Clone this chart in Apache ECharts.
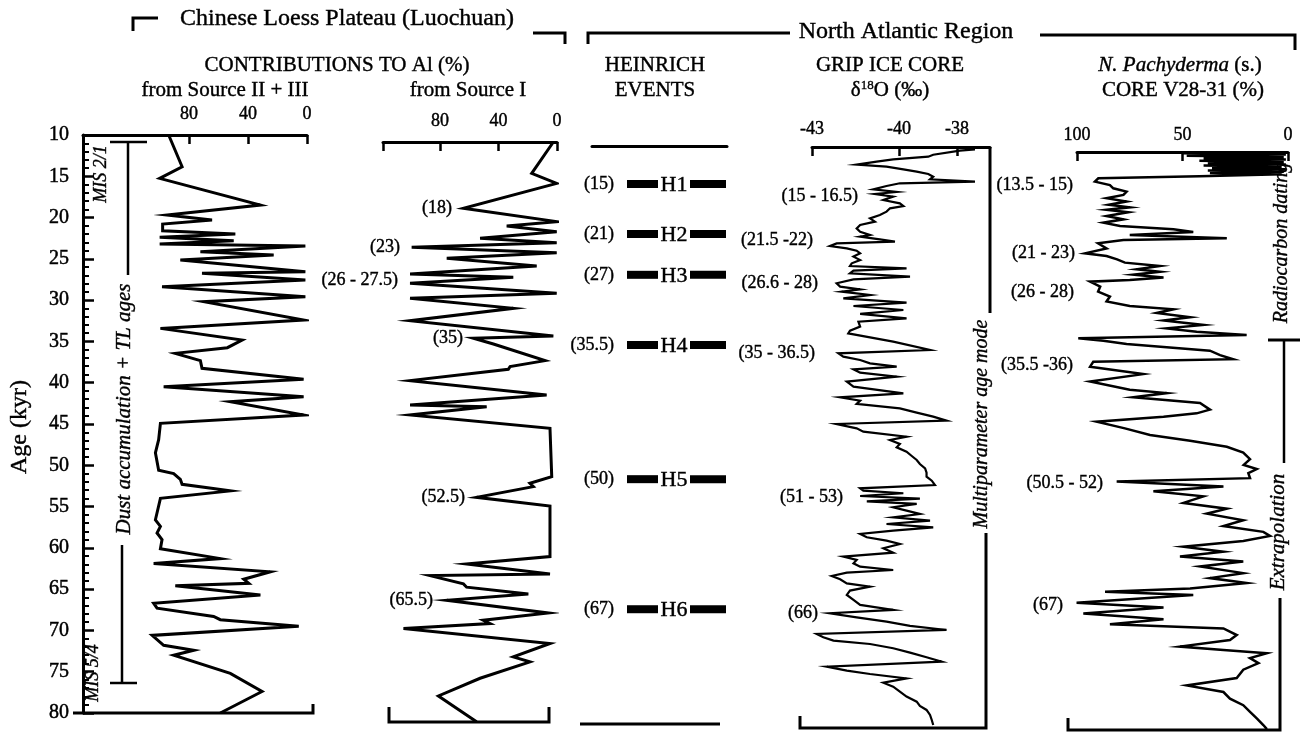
<!DOCTYPE html>
<html><head><meta charset="utf-8">
<script src="https://cdn.jsdelivr.net/npm/echarts@6/dist/echarts.min.js"></script>
<style>html,body{margin:0;padding:0;background:#fff}#c{width:1305px;height:734px}</style>
</head><body><div id="c"></div>
<script>
// ---------------- DATA ----------------
// Source II + III contribution (%) vs age (kyr)
const srcIIIAges = [10.0,13.84,15.25,18.48,19.69,20.29,20.78,21.59,21.99,22.39,22.8,23.2,23.44,24.13,24.53,25.14,26.55,26.75,27.56,28.37,29.58,30.19,32.41,33.42,34.83,35.76,36.44,37.33,38.26,39.59,40.48,41.69,42.3,43.91,44.92,46.9,48.5,50.6,51.0,51.7,52.3,53.1,54.0,56.6,57.4,58.2,59.0,60.1,61.3,61.9,62.9,63.8,64.3,64.6,65.7,66.7,67.3,68.3,68.7,69.5,70.6,71.8,72.4,73.0,75.2,77.4,80.0];
const srcIIIVals = [93.8,84.7,99.9,31.6,94.9,64.4,97.9,97.9,48.6,99.9,49.7,99.9,1.1,72.3,22.6,85.9,1.1,71.2,1.1,98.3,1.1,70,2.3,99.4,44,54,89.3,72.3,71.2,2.3,97.2,2.3,52,2.3,99.4,100.6,102.8,100.6,90.4,85.9,84.7,52,99.4,102.8,99.4,101.7,98.3,99.4,58.8,104,24.9,42.9,39.5,89.3,31.6,104,101.7,63.3,58.8,5.6,105,97.2,76.8,90.4,52,30.5,58.8];
// Source I contribution (%) vs age (kyr)
const srcIAges = [10.0,13.78,14.99,18.0,19.61,20.14,20.82,21.62,22.15,22.71,23.36,24.04,24.96,25.93,26.33,27.06,28.26,28.87,30.07,31.56,33.41,33.69,34.38,36.39,37.11,37.43,38.8,40.53,41.74,41.94,42.94,44.55,50.39,51.19,51.59,52.88,53.93,60.04,60.92,62.13,62.33,63.33,63.73,64.55,65.31,66.84,67.72,68.12,68.72,70.53,72.14,72.74,74.72,76.86,79.96];
const srcIVals = [2.5,17.3,0.2,64,0.2,34.4,0.2,52.6,0.2,99.4,0.2,75.4,13.9,100.5,29.9,100.5,0.2,100.5,29.9,100.5,2.5,57.2,43.5,8.2,32.1,33.3,100.5,7.1,100.5,48.1,100.5,4.8,3.6,18.5,16.2,55,4.8,4.8,61.8,4.8,86.8,64,61.8,19.6,75.4,5.9,50.4,45.8,105,4.8,29.9,18.5,52.6,81.1,55];
// Heinrich events
const heinrichAges = [14.6,20.66,25.6,34.1,50.35,66.1];
const heinrichNames = ['H1','H2','H3','H4','H5','H6'];
const heinrichLabels = ['(15)','(21)','(27)','(35.5)','(50)','(67)'];
// GRIP ice core d18O (permil) vs age
const gripAges = [10.28,10.44,10.68,10.93,11.17,11.49,11.77,11.97,12.13,12.37,12.7,12.98,13.26,13.58,13.9,14.18,14.38,14.71,15.11,15.43,15.67,15.99,16.4,16.8,17.12,17.4,17.8,18.21,18.61,19.01,19.41,19.82,20.22,20.62,20.82,21.14,21.42,21.63,21.95,22.23,22.51,22.83,23.23,23.64,24.04,24.36,24.64,24.92,25.25,25.65,25.97,26.45,26.85,27.18,27.46,27.86,28.26,28.79,29.19,29.67,30.15,30.68,31.08,31.68,32.16,32.49,33.49,34.5,34.9,35.3,35.7,36.11,36.51,36.83,37.23,37.72,38.32,38.92,39.73,40.21,40.61,41.01,41.54,42.06,42.54,43.03,43.43,43.95,44.35,44.96,45.36,45.84,46.24,46.77,47.29,47.77,48.26,48.78,49.3,49.78,50.27,50.79,51.19,51.47,51.79,52.12,52.44,52.76,53.08,53.48,53.89,54.29,54.69,55.09,55.5,55.9,56.3,56.7,57.1,57.51,57.91,58.43,58.96,59.44,59.84,60.25,60.65,61.05,61.37,61.77,62.17,62.66,63.06,63.54,64.06,64.67,65.27,65.87,66.27,66.76,67.28,67.8,68.29,68.77,69.17,69.57,69.98,70.5,71.02,71.59,72.11,72.72,73.2,73.6,74.13,74.65,75.13,75.73,76.33,76.94,77.46,77.94,78.54,79.15,79.76];
const gripVals = [-37.38,-37.9,-37.84,-38.82,-38.99,-40.2,-40.77,-40.83,-41.46,-40.43,-39.85,-39.39,-38.99,-38.82,-38.93,-37.38,-39.97,-40.43,-40.89,-40.08,-40.83,-40.2,-40.54,-39.97,-39.85,-40.31,-40.43,-40.66,-41.0,-40.83,-41.34,-41.46,-41.34,-41.0,-41.34,-40.66,-40.14,-42.15,-42.38,-41.8,-41.46,-41.34,-41.57,-41.34,-41.63,-41.69,-39.74,-41.57,-41.69,-39.62,-41.57,-42.15,-42.03,-41.34,-41.98,-41.0,-41.92,-39.74,-41.57,-39.85,-41.34,-39.74,-41.4,-41.34,-41.69,-41.75,-40.2,-38.93,-42.09,-41.92,-41.34,-41.0,-40.08,-41.57,-41.34,-40.08,-41.8,-41.57,-39.85,-42.03,-41.34,-41.46,-39.97,-39.39,-38.82,-38.36,-42.15,-41.46,-41.23,-39.74,-40.31,-39.97,-40.08,-39.74,-39.56,-39.39,-39.28,-39.1,-39.05,-39.05,-38.87,-38.76,-41.34,-41.23,-39.85,-41.34,-39.28,-41.11,-39.39,-40.2,-39.74,-39.28,-40.2,-38.93,-40.43,-38.82,-40.2,-41.34,-41.11,-40.43,-39.97,-40.54,-40.2,-41.92,-41.46,-41.57,-41.34,-40.2,-41.8,-42.32,-42.03,-41.8,-41.0,-41.69,-41.8,-41.57,-41.34,-40.2,-42.38,-41.46,-40.43,-39.62,-38.36,-42.84,-42.61,-42.26,-41.0,-40.2,-39.62,-39.05,-38.53,-42.49,-41.8,-41.0,-39.74,-40.54,-40.2,-39.97,-39.74,-39.39,-39.28,-39.05,-38.93,-38.87,-38.82];
// N. pachyderma (s.) core V28-31 (%) vs age
const pachyAges = [10.16,10.16,10.3,10.3,10.45,10.45,10.6,10.6,10.75,10.75,10.9,10.9,11.05,11.05,11.2,11.2,11.35,11.35,11.5,11.5,11.65,11.65,11.8,11.8,11.95,11.95,12.1,12.1,12.25,12.25,12.4,12.4,12.55,12.55,12.7,12.7,12.95,13.19,13.59,14.0,14.4,14.8,15.2,15.6,16.0,16.4,16.7,17.0,17.3,17.75,18.15,18.56,18.96,19.37,19.69,20.05,20.46,20.66,21.06,21.67,22.27,22.6,23.0,23.4,23.8,24.2,24.5,24.86,25.2,25.5,25.7,26.3,26.9,27.5,28.1,28.65,29.05,29.5,30.0,30.4,30.95,31.36,31.76,32.16,32.57,32.85,33.25,33.66,34.06,34.6,35.1,35.4,36.0,36.9,37.8,38.8,39.2,39.7,40.4,41.2,41.65,42.05,42.66,43.47,44.28,44.96,45.7,46.4,47.2,47.9,48.4,48.9,49.5,49.9,50.5,51.1,51.7,52.5,53.2,53.8,54.6,55.3,56.0,56.5,57.1,57.8,58.4,59.0,59.6,60.2,61.0,61.6,62.2,62.85,63.25,63.65,64.6,65.15,65.9,66.6,67.2,67.7,68.5,69.1,69.9,70.3,70.7,71.3,71.9,72.7,73.7,74.6,75.4,76.2,77.0,77.8,78.6,79.4,79.9];
const pachyVals = [1,50,50,1,1,48,48,2,2,40,40,1,1,42,42,2,2,38,38,1,1,40,40,3,3,36,36,1,1,38,38,2,2,37,37,3,42,89.9,91.5,84.4,82.8,76.5,78,86,76.5,85,75,86,75.7,86,78,87.5,79.6,54.3,44.9,75,29,78,90,86,96.2,86,81,77.3,60.7,71.7,60.7,73.3,59,75,93.8,89,90,84.4,86,75,54.3,62.2,46.4,59,40,57.5,43.3,19.6,99.4,87.5,76.5,57.5,37,32.2,26,92.3,93.8,68.6,93.8,75,57.5,73.3,41.7,37,43.3,59,90.7,77.3,65.4,46.4,29,21.2,18,21,14.8,18.8,18,81.2,30.6,63.8,40.1,49.6,29,38.5,21.2,30.6,11.7,8.5,21.2,49.6,30.6,51.2,21.2,41.7,21.2,37,19.6,46.4,86.7,44.9,100.2,59,97,59,84.4,30.6,24.3,27.5,51.2,30.6,10,18,14,21.2,24.3,48,30.6,27.5,21.2,18,14.8,11.7,10];
// tick labels
const loessTicks = [0,40,80];
const gripTicks = [-43,-40,-38];
const pachyTicks = [0,50,100];

// ---------------- CHART ----------------
const FONT = '"Liberation Serif", "Times New Roman", serif';
const K = '#000';
const chart = echarts.init(document.getElementById('c'), null, {renderer:'canvas'});

const grids = [
  {left:83, top:135, width:224, height:578},   // Source II+III
  {left:383, top:142, width:174, height:580},  // Source I
  {left:592, top:146, width:135, height:578},  // Heinrich
  {left:812, top:147, width:178, height:580},  // GRIP
  {left:1077, top:152, width:211, height:578}  // N. pachyderma
];

function topAxis(gi, min, max, inverse, ticks, labels, margin, showTicks) {
  return {
    type:'value', gridIndex:gi, position:'top', min:min, max:max, inverse:inverse,
    axisLine:{show:true, onZero:false, lineStyle:{color:K, width:3}},
    axisTick:{show:showTicks, inside:true, length:9, lineStyle:{color:K, width:2.5}, customValues:ticks},
    axisLabel:{show:!!labels, customValues:labels||[], color:K, fontFamily:FONT, fontSize:18, margin:margin,
      textBorderColor:K, textBorderWidth:0.4},
    splitLine:{show:false}
  };
}
const xAxes = [
  topAxis(0, 0, 151.9, true, loessTicks, loessTicks, 12, true),
  topAxis(1, 0, 119, true, loessTicks.concat([119]), loessTicks, 12, true),
  topAxis(2, 0, 1, false, [], null, 8, false),
  topAxis(3, -43, -36.862, false, gripTicks, gripTicks, 9, true),
  topAxis(4, 0, 100, true, pachyTicks, pachyTicks, 8, true)
];
const yAxes = grids.map((g,i)=>({
  type:'value', gridIndex:i, min:10, max:80, interval:5, inverse:true, show:i===0, position:'left',
  axisLine:{show:true, onZero:false, lineStyle:{color:K, width:3}},
  axisTick:{show:true, inside:true, length:11, lineStyle:{color:K, width:2.5}},
  minorTick:{show:true, splitNumber:5, length:6, lineStyle:{color:K, width:2}},
  axisLabel:{color:K, fontFamily:FONT, fontSize:20, margin:14, textBorderColor:K, textBorderWidth:0.5},
  splitLine:{show:false}, minorSplitLine:{show:false}
}));

function lineSeries(i, ages, vals, w) {
  return {type:'line', xAxisIndex:i, yAxisIndex:i, symbol:'none', animation:false,
    data: ages.map((a,k)=>[vals[k], a]), lineStyle:{color:K, width:w, join:'miter'}, z:3};
}

const heinrichSeries = {
  type:'custom', xAxisIndex:2, yAxisIndex:2, animation:false,
  data: heinrichAges.map((a,i)=>[0.5, a, i]),
  renderItem: function(params, api) {
    const i = api.value(2);
    const y = api.coord([0.5, api.value(1)])[1];
    const x0 = params.coordSys.x;
    return {type:'group', children:[
      {type:'rect', shape:{x:x0+35, y:y-4, width:31, height:8}, style:{fill:K}},
      {type:'text', style:{text:heinrichNames[i], x:x0+82, y:y+1, align:'center', verticalAlign:'middle', fontFamily:FONT, fontSize:22, fill:K, stroke:K, lineWidth:0.4}},
      {type:'rect', shape:{x:x0+98, y:y-4, width:36, height:8}, style:{fill:K}},
      {type:'text', style:{text:heinrichLabels[i], x:x0+22, y:y, align:'right', verticalAlign:'middle', fontFamily:FONT, fontSize:18, fill:K, stroke:K, lineWidth:0.4}}
    ]};
  }
};

// ------------- decorations / texts -------------
function T(text, x, y, o) {
  o = o || {};
  return {type:'text', x:x, y:y, rotation:o.rot||0, silent:true,
    style:{text:text, fill:K, stroke:K, lineWidth:0.4, fontFamily:FONT, fontSize:o.size||18, fontStyle:o.italic?'italic':'normal',
      align:o.align||'center', verticalAlign:'middle'}};
}
function L(pts, w) {
  return {type:'polyline', silent:true, shape:{points:pts}, style:{stroke:K, lineWidth:w||3, fill:null}};
}
const R = Math.PI/2;
const graphics = [
  // top headers
  T('Chinese Loess Plateau (Luochuan)', 347, 19, {size:24}),
  L([[133,31],[133,18],[158,18]]),
  L([[533,33],[565,33],[565,44]]),
  L([[588,44],[588,33],[790,33]]),
  T('North Atlantic Region', 906, 32, {size:24}),
  L([[1040,35],[1295,35],[1295,50]]),
  T('CONTRIBUTIONS TO Al (%)', 337, 65, {size:21}),
  T('from Source II + III', 225, 90, {size:21}),
  T('from Source I', 468, 90, {size:21}),
  T('HEINRICH', 655, 65, {size:21}),
  T('EVENTS', 655, 90, {size:21}),
  T('GRIP ICE CORE', 890, 65, {size:21}),
  {type:'text', x:890, y:90, silent:true, style:{text:'δ{s|18}O (‰)', fill:K, stroke:K, lineWidth:0.4, fontFamily:FONT, fontSize:21, align:'center', verticalAlign:'middle',
    rich:{s:{fontFamily:FONT, fontSize:13, verticalAlign:'top', fill:K, stroke:K, lineWidth:0.3}}}},
  {type:'text', x:1180, y:65, silent:true, style:{text:'{i|N. Pachyderma} (s.)', fill:K, stroke:K, lineWidth:0.4, fontFamily:FONT, fontSize:21, align:'center', verticalAlign:'middle',
    rich:{i:{fontFamily:FONT, fontSize:21, fontStyle:'italic', fill:K, stroke:K, lineWidth:0.4}}}},
  T('CORE V28-31 (%)', 1183, 90, {size:21}),
  // y axis title
  T('Age (kyr)', 20, 427, {size:24, rot:R}),
  // panel 1 decorations
  L([[73,713],[313,713],[313,704]]),
  T('MIS 2/1', 101, 174, {size:18, italic:true, rot:R}),
  T('MIS 5/4', 93, 673, {size:18, italic:true, rot:R}),
  L([[110,142],[147,142]], 2.5), L([[128,142],[128,275]], 2.5),
  T('Dust accumulation + TL ages', 124, 409, {size:21, italic:true, rot:R}),
  L([[122,545],[122,683]], 2.5), L([[110,683],[137,683]], 2.5),
  // panel 2
  L([[389,707],[389,722],[549,722],[549,707]]),
  T('(18)', 452, 208, {align:'right'}),
  T('(23)', 400, 247, {align:'right'}),
  T('(26 - 27.5)', 398, 280, {align:'right'}),
  T('(35)', 463, 338, {align:'right'}),
  T('(52.5)', 465, 497, {align:'right'}),
  T('(65.5)', 433, 600, {align:'right'}),
  // heinrich bottom
  L([[580,724],[720,724]]),
  // GRIP
  L([[990,147],[990,313]]),
  T('Multiparameter age mode', 982, 424, {size:20, italic:true, rot:R}),
  L([[986,533],[986,728],[800,728],[800,716]]),
  T('(15 - 16.5)', 858, 196, {align:'right'}),
  T('(21.5 -22)', 813, 240, {align:'right'}),
  T('(26.6 - 28)', 818, 283, {align:'right'}),
  T('(35 - 36.5)', 815, 353, {align:'right'}),
  T('(51 - 53)', 843, 497, {align:'right'}),
  T('(66)', 818, 613, {align:'right'}),
  // pachyderma
  T('Radiocarbon dating', 1282, 243, {size:20, italic:true, rot:R}),
  L([[1268,340],[1300,340]]), L([[1284,340],[1284,463]], 2.5),
  T('Extrapolation', 1278, 532, {size:21, italic:true, rot:R}),
  L([[1280,598],[1280,730],[1068,730],[1068,718]]),
  T('(13.5 - 15)', 1073, 185, {align:'right'}),
  T('(21 - 23)', 1075, 253, {align:'right'}),
  T('(26 - 28)', 1074, 292, {align:'right'}),
  T('(35.5 -36)', 1073, 365, {align:'right'}),
  T('(50.5 - 52)', 1103, 483, {align:'right'}),
  T('(67)', 1063, 605, {align:'right'})
];

chart.setOption({
  animation:false,
  backgroundColor:'#fff',
  grid: grids.map(g=>Object.assign({containLabel:false}, g)),
  xAxis: xAxes,
  yAxis: yAxes,
  series: [
    lineSeries(0, srcIIIAges, srcIIIVals, 3),
    lineSeries(1, srcIAges, srcIVals, 3),
    heinrichSeries,
    lineSeries(3, gripAges, gripVals, 2.2),
    lineSeries(4, pachyAges, pachyVals, 2.5)
  ],
  graphic: graphics
});
</script>
</body></html>
